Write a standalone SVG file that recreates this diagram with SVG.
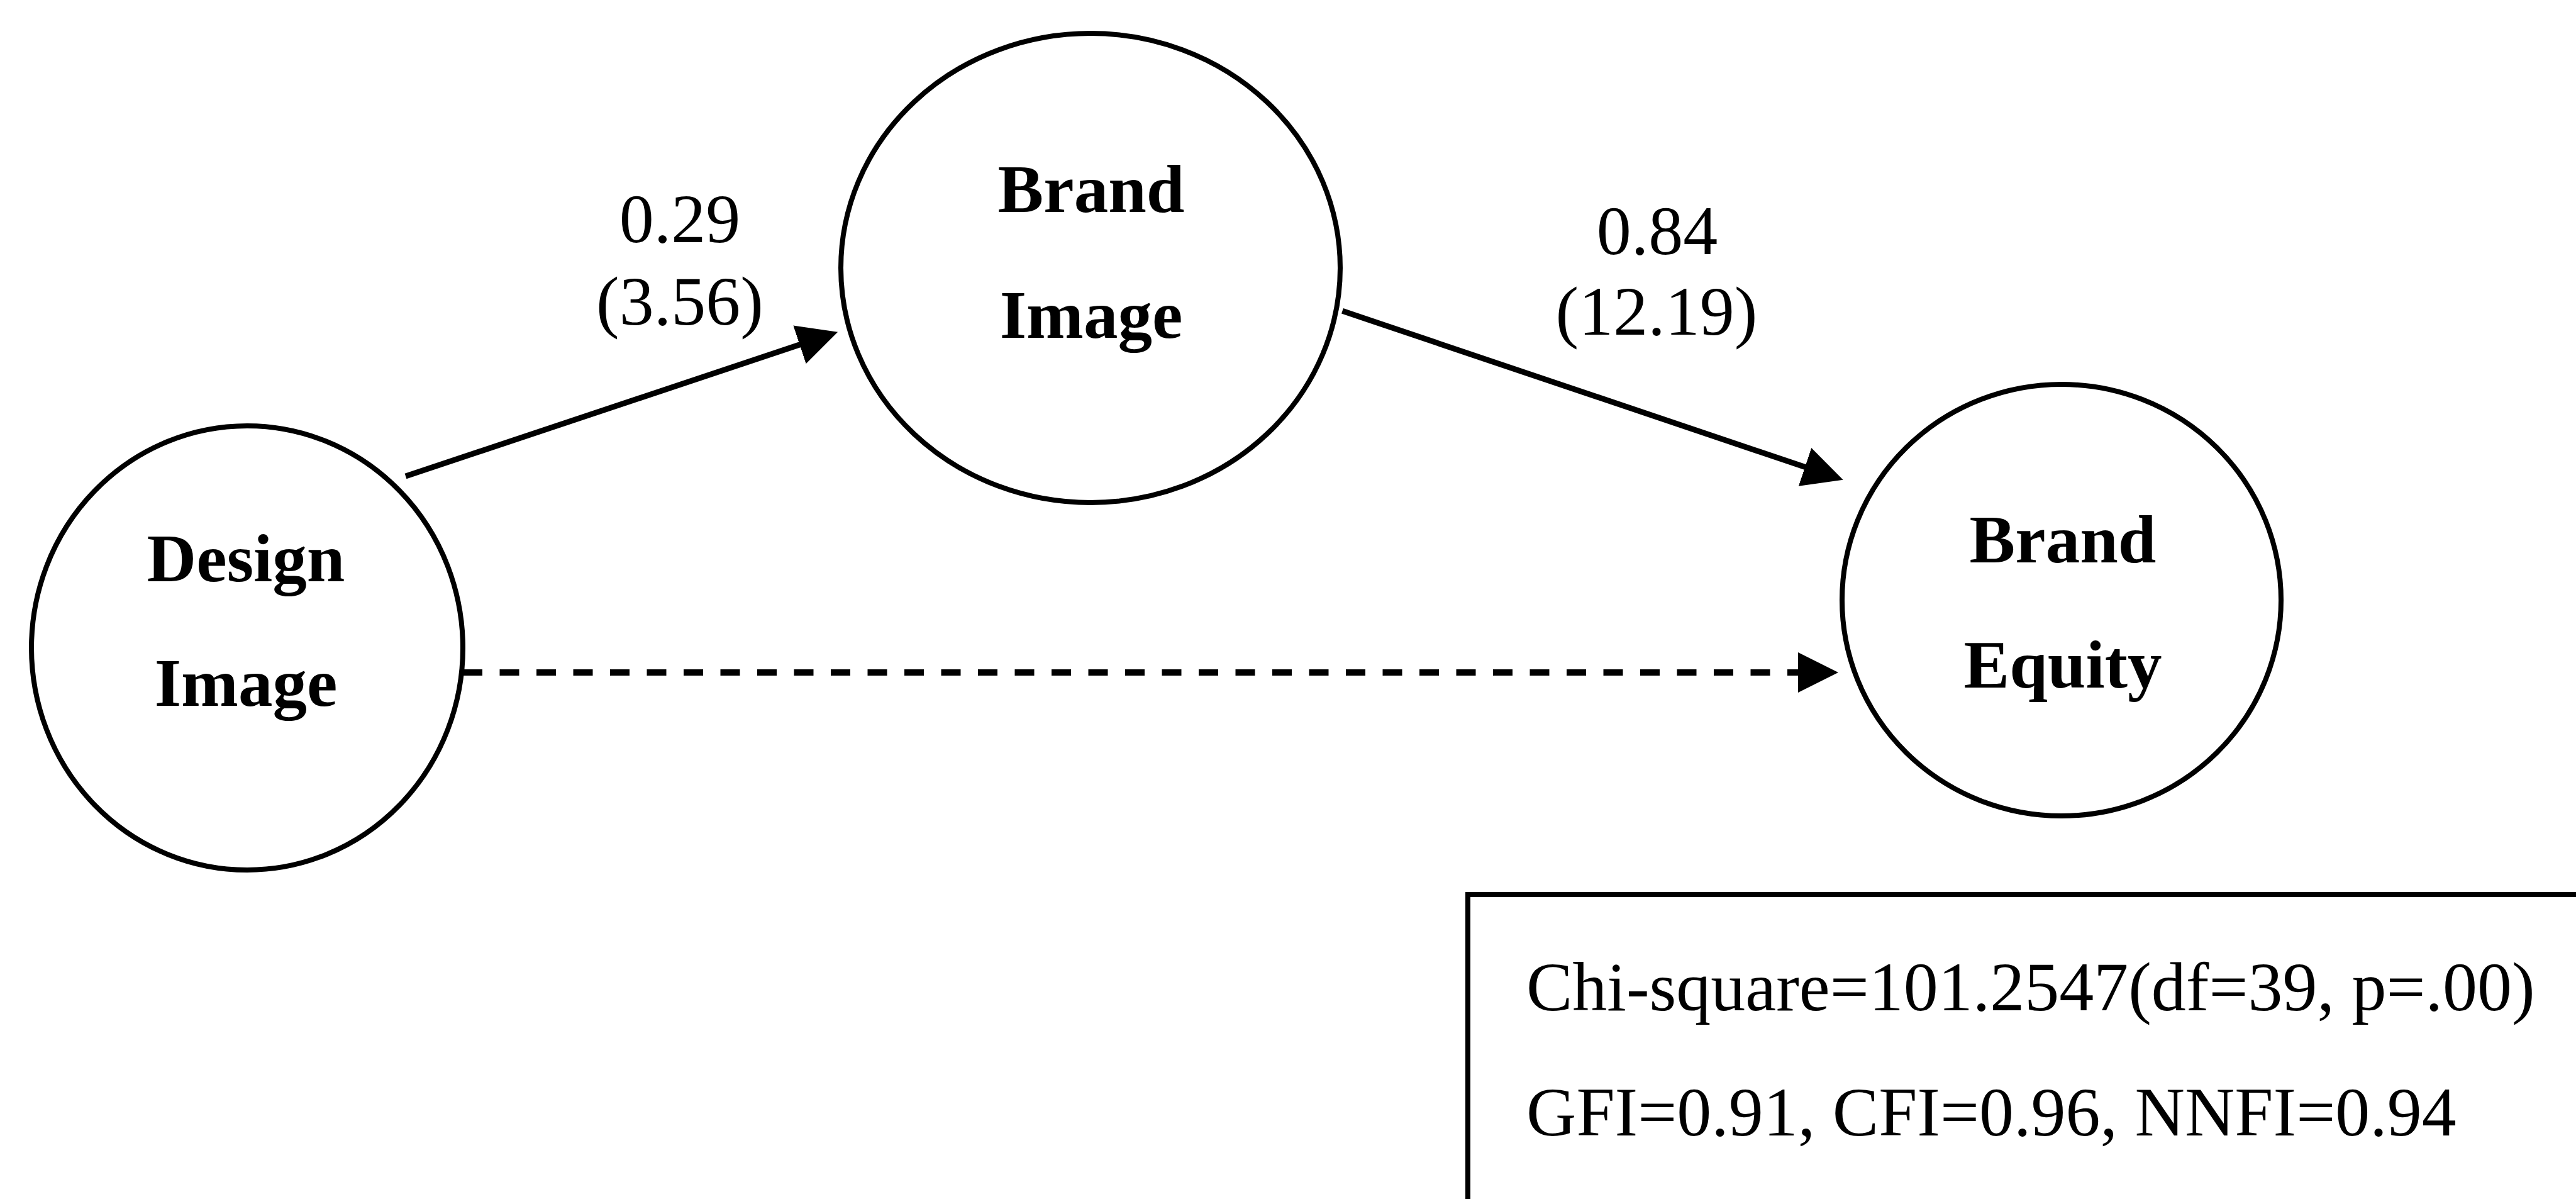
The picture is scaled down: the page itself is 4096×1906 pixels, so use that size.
<svg xmlns="http://www.w3.org/2000/svg" width="4096" height="1906" viewBox="0 0 4096 1906">
<style>
.node{fill:#fff;stroke:#000;stroke-width:8}
.lbl{font-family:"Liberation Serif","Times New Roman",serif;font-weight:bold;font-size:109px;fill:#000;text-anchor:middle}
.coef{font-family:"Liberation Serif","Times New Roman",serif;font-size:110px;fill:#000;text-anchor:middle}
.fit{font-family:"Liberation Serif","Times New Roman",serif;font-size:110px;fill:#000}
.edge{stroke:#000;stroke-width:9;fill:none}
.dash{stroke:#000;stroke-width:10;fill:none;stroke-dasharray:31 27.5}
</style>
<defs>
<marker id="ah" markerUnits="userSpaceOnUse" markerWidth="66" markerHeight="66" refX="2" refY="32" orient="auto" viewBox="0 0 66 64">
<path d="M0,0 L64,32 L0,64 Z" fill="#000"/>
</marker>
</defs>
<rect width="4096" height="1906" fill="#fff"/>
<g id="connectors">
<line class="edge" x1="645" y1="757" x2="1273.3" y2="547.3" marker-end="url(#ah)"/>
<line class="edge" x1="2134.5" y1="494.3" x2="2871.9" y2="743" marker-end="url(#ah)"/>
<line class="dash" x1="736" y1="1069" x2="2861" y2="1069"/>
<line class="edge" x1="2858" y1="1069" x2="2861" y2="1069" stroke-width="10" marker-end="url(#ah)"/>
</g>
<g id="node-design-image">
<ellipse class="node" cx="393" cy="1030" rx="343" ry="353"/>
<text class="lbl" x="391" y="924">Design</text>
<text class="lbl" x="391" y="1122">Image</text>
</g>
<g id="node-brand-image">
<ellipse class="node" cx="1734" cy="426" rx="397" ry="373"/>
<text class="lbl" x="1735" y="337">Brand</text>
<text class="lbl" x="1735" y="537">Image</text>
</g>
<g id="node-brand-equity">
<ellipse class="node" cx="3278" cy="954" rx="349" ry="343"/>
<text class="lbl" x="3280" y="894">Brand</text>
<text class="lbl" x="3280" y="1093">Equity</text>
</g>
<g id="labels">
<text class="coef" x="1081" y="385">0.29</text>
<text class="coef" x="1081" y="516">(3.56)</text>
<text class="coef" x="2635" y="404">0.84</text>
<text class="coef" x="2634" y="532">(12.19)</text>
</g>
<g id="fit-box">
<rect x="2334" y="1422" width="1900" height="600" fill="#fff" stroke="#000" stroke-width="8"/>
<text class="fit" x="2427" y="1606">Chi-square=101.2547(df=39, p=.00)</text>
<text class="fit" x="2427" y="1805">GFI=0.91, CFI=0.96, NNFI=0.94</text>
</g>
</svg>
